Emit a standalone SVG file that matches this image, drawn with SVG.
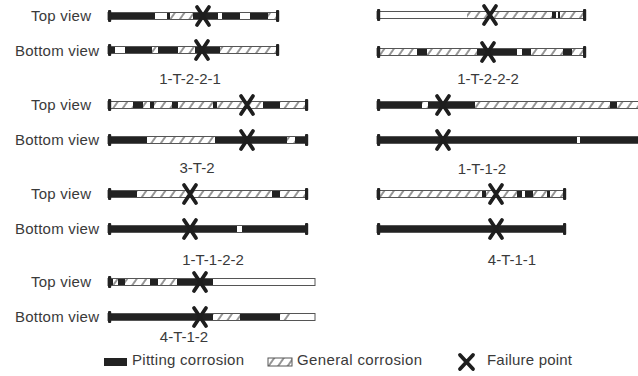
<svg xmlns="http://www.w3.org/2000/svg" xmlns:xlink="http://www.w3.org/1999/xlink" width="638" height="376" viewBox="0 0 638 376">
<defs>
<style>
.t{font-family:"Liberation Sans",Arial,sans-serif;font-size:15px;fill:#3a3a3a}
.m{text-anchor:middle}
.base{fill:#fff}
.ol{fill:none;stroke:#555;stroke-width:1}
.b{fill:#222}
.h{fill:url(#hatch)}
.x{stroke:#1e1e1e;stroke-width:3.8;stroke-linecap:round;fill:none}
</style>
<pattern id="hatch" patternUnits="userSpaceOnUse" width="7.8" height="7.8" patternTransform="rotate(35)">
<rect width="7.8" height="7.8" fill="#fff"/>
<line x1="1" y1="0" x2="1" y2="7.8" stroke="#444" stroke-width="1.1"/>
</pattern>
<rect id="cap" x="-1.5" y="-6" width="3.2" height="12" rx="1" fill="#222"/>
<path id="xm" class="x" d="M-6,-9L6,9M6,-9L-6,9"/>
</defs>
<rect width="638" height="376" fill="#fff"/>

<g id="row-labels">
<text class="t" x="31" y="21" textLength="60">Top view</text>
<text class="t" x="15" y="56" textLength="84">Bottom view</text>
<text class="t" x="31" y="110" textLength="60">Top view</text>
<text class="t" x="15" y="145" textLength="84">Bottom view</text>
<text class="t" x="31" y="199" textLength="60">Top view</text>
<text class="t" x="15" y="234" textLength="84">Bottom view</text>
<text class="t" x="31" y="287" textLength="60">Top view</text>
<text class="t" x="15" y="322" textLength="84">Bottom view</text>
</g>

<g id="s-1-T-2-2-1">
<g transform="translate(0,16)">
<rect class="base" x="108" y="-3.5" width="170" height="7"/>
<rect class="b" x="110" y="-3.5" width="45" height="7"/>
<rect class="b" x="167" y="-3.5" width="3" height="7"/>
<rect class="h" x="170" y="-3.5" width="23" height="7"/>
<rect class="b" x="193" y="-3.5" width="25" height="7"/>
<rect class="b" x="222" y="-3.5" width="18" height="7"/>
<rect class="b" x="250" y="-3.5" width="18" height="7"/>
<rect class="h" x="268" y="-3.5" width="9" height="7"/>
<rect class="ol" x="108" y="-3.5" width="170" height="7"/>
<use xlink:href="#cap" x="109.5"/><use xlink:href="#cap" x="277.5"/>
<use xlink:href="#xm" x="203"/>
</g>
<g transform="translate(0,50)">
<rect class="base" x="108" y="-3.5" width="170" height="7"/>
<rect class="b" x="110" y="-3.5" width="5" height="7"/>
<rect class="b" x="125" y="-3.5" width="27" height="7"/>
<rect class="h" x="152" y="-3.5" width="6" height="7"/>
<rect class="b" x="158" y="-3.5" width="20" height="7"/>
<rect class="h" x="178" y="-3.5" width="17" height="7"/>
<rect class="b" x="195" y="-3.5" width="25" height="7"/>
<rect class="h" x="220" y="-3.5" width="56" height="7"/>
<rect class="ol" x="108" y="-3.5" width="170" height="7"/>
<use xlink:href="#cap" x="109.5"/><use xlink:href="#cap" x="277.5"/>
<use xlink:href="#xm" x="202"/>
</g>
<text class="t m" x="190" y="84">1-T-2-2-1</text>
</g>

<g id="s-1-T-2-2-2">
<g transform="translate(0,15)">
<rect class="base" x="377" y="-3.5" width="208" height="7"/>
<rect class="h" x="467" y="-3.5" width="85" height="7"/>
<rect class="b" x="552" y="-3.5" width="4" height="7"/>
<rect class="b" x="558" y="-3.5" width="2" height="7"/>
<rect class="h" x="560" y="-3.5" width="23" height="7"/>
<rect class="ol" x="377" y="-3.5" width="208" height="7"/>
<use xlink:href="#cap" x="378.5"/><use xlink:href="#cap" x="584.5"/>
<use xlink:href="#xm" x="490"/>
</g>
<g transform="translate(0,52)">
<rect class="base" x="377" y="-3.5" width="208" height="7"/>
<rect class="h" x="379" y="-3.5" width="38" height="7"/>
<rect class="b" x="417" y="-3.5" width="10" height="7"/>
<rect class="h" x="427" y="-3.5" width="50" height="7"/>
<rect class="b" x="477" y="-3.5" width="40" height="7"/>
<rect class="b" x="522" y="-3.5" width="9" height="7"/>
<rect class="h" x="531" y="-3.5" width="32" height="7"/>
<rect class="b" x="563" y="-3.5" width="9" height="7"/>
<rect class="h" x="572" y="-3.5" width="11" height="7"/>
<rect class="ol" x="377" y="-3.5" width="208" height="7"/>
<use xlink:href="#cap" x="378.5"/><use xlink:href="#cap" x="584.5"/>
<use xlink:href="#xm" x="488"/>
</g>
<text class="t m" x="488" y="84">1-T-2-2-2</text>
</g>

<g id="s-3-T-2">
<g transform="translate(0,105)">
<rect class="base" x="108" y="-3.5" width="199" height="7"/>
<rect class="h" x="110" y="-3.5" width="23" height="7"/>
<rect class="b" x="133" y="-3.5" width="10" height="7"/>
<rect class="h" x="143" y="-3.5" width="7" height="7"/>
<rect class="b" x="150" y="-3.5" width="4" height="7"/>
<rect class="h" x="154" y="-3.5" width="18" height="7"/>
<rect class="b" x="172" y="-3.5" width="6" height="7"/>
<rect class="h" x="178" y="-3.5" width="35" height="7"/>
<rect class="b" x="213" y="-3.5" width="4" height="7"/>
<rect class="h" x="217" y="-3.5" width="46" height="7"/>
<rect class="b" x="263" y="-3.5" width="17" height="7"/>
<rect class="h" x="280" y="-3.5" width="25" height="7"/>
<rect class="ol" x="108" y="-3.5" width="199" height="7"/>
<use xlink:href="#cap" x="109.5"/><use xlink:href="#cap" x="306.5"/>
<use xlink:href="#xm" x="247"/>
</g>
<g transform="translate(0,140)">
<rect class="base" x="108" y="-3.5" width="199" height="7"/>
<rect class="b" x="110" y="-3.5" width="37" height="7"/>
<rect class="h" x="147" y="-3.5" width="68" height="7"/>
<rect class="b" x="215" y="-3.5" width="72" height="7"/>
<rect class="h" x="287" y="-3.5" width="8" height="7"/>
<rect class="b" x="295" y="-3.5" width="10" height="7"/>
<rect class="ol" x="108" y="-3.5" width="199" height="7"/>
<use xlink:href="#cap" x="109.5"/><use xlink:href="#cap" x="306.5"/>
<use xlink:href="#xm" x="247"/>
</g>
<text class="t m" x="197" y="173">3-T-2</text>
</g>

<g id="s-1-T-1-2">
<g transform="translate(0,105)">
<rect class="base" x="377" y="-3.5" width="270" height="7"/>
<rect class="b" x="379" y="-3.5" width="43" height="7"/>
<rect class="h" x="422" y="-3.5" width="6" height="7"/>
<rect class="b" x="428" y="-3.5" width="47" height="7"/>
<rect class="h" x="475" y="-3.5" width="135" height="7"/>
<rect class="b" x="610" y="-3.5" width="7" height="7"/>
<rect class="h" x="617" y="-3.5" width="30" height="7"/>
<rect class="ol" x="377" y="-3.5" width="270" height="7"/>
<use xlink:href="#cap" x="378.5"/>
<use xlink:href="#xm" x="443"/>
</g>
<g transform="translate(0,140)">
<rect class="base" x="377" y="-3.5" width="270" height="7"/>
<rect class="b" x="379" y="-3.5" width="198" height="7"/>
<rect class="b" x="580" y="-3.5" width="67" height="7"/>
<rect class="ol" x="377" y="-3.5" width="270" height="7"/>
<use xlink:href="#cap" x="378.5"/>
<use xlink:href="#xm" x="443"/>
</g>
<text class="t m" x="482" y="174">1-T-1-2</text>
</g>

<g id="s-1-T-1-2-2">
<g transform="translate(0,194)">
<rect class="base" x="108" y="-3.5" width="199" height="7"/>
<rect class="b" x="110" y="-3.5" width="27" height="7"/>
<rect class="h" x="137" y="-3.5" width="135" height="7"/>
<rect class="b" x="272" y="-3.5" width="8" height="7"/>
<rect class="h" x="280" y="-3.5" width="25" height="7"/>
<rect class="ol" x="108" y="-3.5" width="199" height="7"/>
<use xlink:href="#cap" x="109.5"/><use xlink:href="#cap" x="306.5"/>
<use xlink:href="#xm" x="190"/>
</g>
<g transform="translate(0,229)">
<rect class="base" x="108" y="-3.5" width="199" height="7"/>
<rect class="b" x="110" y="-3.5" width="127" height="7"/>
<rect class="b" x="242" y="-3.5" width="63" height="7"/>
<rect class="ol" x="108" y="-3.5" width="199" height="7"/>
<use xlink:href="#cap" x="109.5"/><use xlink:href="#cap" x="306.5"/>
<use xlink:href="#xm" x="190"/>
</g>
<text class="t m" x="213" y="265">1-T-1-2-2</text>
</g>

<g id="s-4-T-1-1">
<g transform="translate(0,194)">
<rect class="base" x="377" y="-3.5" width="188" height="7"/>
<rect class="h" x="379" y="-3.5" width="103" height="7"/>
<rect class="b" x="482" y="-3.5" width="4" height="7"/>
<rect class="h" x="486" y="-3.5" width="31" height="7"/>
<rect class="b" x="517" y="-3.5" width="5" height="7"/>
<rect class="b" x="525" y="-3.5" width="8" height="7"/>
<rect class="h" x="533" y="-3.5" width="14" height="7"/>
<rect class="b" x="547" y="-3.5" width="3" height="7"/>
<rect class="h" x="550" y="-3.5" width="13" height="7"/>
<rect class="ol" x="377" y="-3.5" width="188" height="7"/>
<use xlink:href="#cap" x="378.5"/><use xlink:href="#cap" x="564.5"/>
<use xlink:href="#xm" x="496"/>
</g>
<g transform="translate(0,229)">
<rect class="base" x="377" y="-3.5" width="188" height="7"/>
<rect class="b" x="379" y="-3.5" width="184" height="7"/>
<rect class="ol" x="377" y="-3.5" width="188" height="7"/>
<use xlink:href="#cap" x="378.5"/><use xlink:href="#cap" x="564.5"/>
<use xlink:href="#xm" x="496"/>
</g>
<text class="t m" x="512" y="265">4-T-1-1</text>
</g>

<g id="s-4-T-1-2">
<g transform="translate(0,282)">
<rect class="base" x="108" y="-3.5" width="207" height="7"/>
<rect class="b" x="110" y="-3.5" width="3" height="7"/>
<rect class="h" x="113" y="-3.5" width="5" height="7"/>
<rect class="b" x="118" y="-3.5" width="7" height="7"/>
<rect class="h" x="125" y="-3.5" width="25" height="7"/>
<rect class="b" x="150" y="-3.5" width="8" height="7"/>
<rect class="h" x="158" y="-3.5" width="19" height="7"/>
<rect class="b" x="177" y="-3.5" width="36" height="7"/>
<rect class="ol" x="108" y="-3.5" width="207" height="7"/>
<use xlink:href="#cap" x="109.5"/>
<use xlink:href="#xm" x="200"/>
</g>
<g transform="translate(0,317)">
<rect class="base" x="108" y="-3.5" width="207" height="7"/>
<rect class="b" x="110" y="-3.5" width="103" height="7"/>
<rect class="h" x="213" y="-3.5" width="27" height="7"/>
<rect class="b" x="240" y="-3.5" width="40" height="7"/>
<rect class="h" x="280" y="-3.5" width="10" height="7"/>
<rect class="ol" x="108" y="-3.5" width="207" height="7"/>
<use xlink:href="#cap" x="109.5"/>
<use xlink:href="#xm" x="200"/>
</g>
<text class="t m" x="184" y="342">4-T-1-2</text>
</g>

<g id="legend">
<rect class="b" x="104" y="358" width="23" height="8"/>
<text class="t" x="132" y="365" textLength="112">Pitting corrosion</text>
<rect class="h" x="268" y="358" width="24" height="8"/>
<rect class="ol" x="268" y="358" width="24" height="8"/>
<text class="t" x="297" y="365" textLength="125">General corrosion</text>
<path class="x" d="M460,355L473,369M473,355L460,369"/>
<text class="t" x="487" y="365" textLength="85">Failure point</text>
</g>
</svg>
